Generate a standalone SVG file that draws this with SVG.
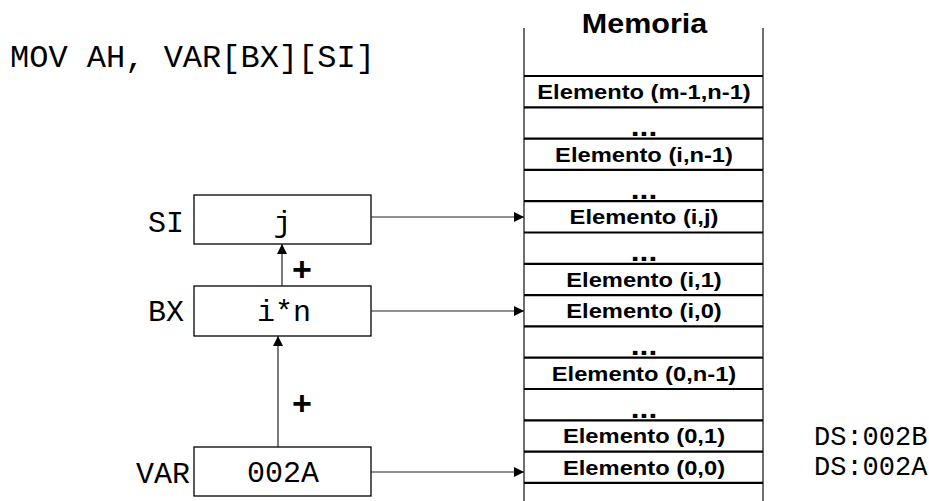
<svg xmlns="http://www.w3.org/2000/svg" width="929" height="501" viewBox="0 0 929 501">
<style>
.mono{font-family:"Courier New",Courier,"Liberation Mono",monospace;fill:#000}
.el{font-family:"Liberation Sans",Arial,sans-serif;font-weight:bold;font-size:21px;text-anchor:middle;fill:#000}
.dots{font-family:"Liberation Sans",Arial,sans-serif;font-weight:bold;font-size:28px;text-anchor:middle;fill:#000}
.plus{font-family:"Liberation Sans",Arial,sans-serif;font-weight:bold;font-size:34px;text-anchor:middle;fill:#000}
.box{fill:#fff;stroke:#000;stroke-width:1.3}
.hl{stroke:#000;stroke-width:2.2}
.vl{stroke:#222;stroke-width:1.3}
.con{stroke:#222;stroke-width:1.2;fill:none}
</style>
<defs>
<marker id="ah" viewBox="0 0 10 10" refX="10" refY="5" markerWidth="10" markerHeight="10" markerUnits="userSpaceOnUse" orient="auto">
<path d="M0,0 L10,5 L0,10 Z" fill="#000"/>
</marker>
</defs>
<rect width="929" height="501" fill="#fff"/>
<text class="mono" x="10" y="67" font-size="32">MOV AH, VAR[BX][SI]</text>

<g id="memoria">
<text x="0" y="33" transform="translate(644.5 0) scale(1.09 1)" style="font-family:'Liberation Sans',Arial,sans-serif;font-weight:bold;font-size:28px;text-anchor:middle">Memoria</text>
<line class="vl" x1="524" y1="28" x2="524" y2="501"/>
<line class="vl" x1="763" y1="28" x2="763" y2="501"/>
<line class="hl" x1="524" y1="76" x2="763" y2="76"/>
<line class="hl" x1="524" y1="107.3" x2="763" y2="107.3"/>
<line class="hl" x1="524" y1="138.6" x2="763" y2="138.6"/>
<line class="hl" x1="524" y1="169.9" x2="763" y2="169.9"/>
<line class="hl" x1="524" y1="201.2" x2="763" y2="201.2"/>
<line class="hl" x1="524" y1="232.5" x2="763" y2="232.5"/>
<line class="hl" x1="524" y1="263.8" x2="763" y2="263.8"/>
<line class="hl" x1="524" y1="295.1" x2="763" y2="295.1"/>
<line class="hl" x1="524" y1="326.4" x2="763" y2="326.4"/>
<line class="hl" x1="524" y1="357.7" x2="763" y2="357.7"/>
<line class="hl" x1="524" y1="389" x2="763" y2="389"/>
<line class="hl" x1="524" y1="420.3" x2="763" y2="420.3"/>
<line class="hl" x1="524" y1="451.6" x2="763" y2="451.6"/>
<line class="hl" x1="524" y1="482.9" x2="763" y2="482.9"/>
<g transform="translate(644 0) scale(1.13 1)">
<g id="cell-m1n1"><text class="el" x="0" y="99">Elemento (m-1,n-1)</text></g>
<g id="cell-dots1"><text class="dots" x="0" y="136.5">...</text></g>
<g id="cell-in1"><text class="el" x="0" y="161.6">Elemento (i,n-1)</text></g>
<g id="cell-dots2"><text class="dots" x="0" y="199">...</text></g>
<g id="cell-ij"><text class="el" x="0" y="224.2">Elemento (i,j)</text></g>
<g id="cell-dots3"><text class="dots" x="0" y="261.5">...</text></g>
<g id="cell-i1"><text class="el" x="0" y="286.8">Elemento (i,1)</text></g>
<g id="cell-i0"><text class="el" x="0" y="318.1">Elemento (i,0)</text></g>
<g id="cell-dots4"><text class="dots" x="0" y="355.4">...</text></g>
<g id="cell-0n1"><text class="el" x="0" y="380.7">Elemento (0,n-1)</text></g>
<g id="cell-dots5"><text class="dots" x="0" y="418">...</text></g>
<g id="cell-01"><text class="el" x="0" y="443.3">Elemento (0,1)</text></g>
<g id="cell-00"><text class="el" x="0" y="474.6">Elemento (0,0)</text></g>
</g>
</g>

<g id="SI">
<rect class="box" x="194" y="195" width="177" height="49"/>
<text class="mono" x="184" y="232" font-size="30" text-anchor="end">SI</text>
<text class="mono" x="282.5" y="232" font-size="30" text-anchor="middle">j</text>
</g>
<g id="BX">
<rect class="box" x="194" y="286" width="177" height="50"/>
<text class="mono" x="184" y="321" font-size="30" text-anchor="end">BX</text>
<text class="mono" x="284" y="321" font-size="30" text-anchor="middle">i*n</text>
</g>
<g id="VAR">
<rect class="box" x="194" y="447" width="177" height="49"/>
<text class="mono" x="190" y="483" font-size="30" text-anchor="end">VAR</text>
<text class="mono" x="283" y="482" font-size="30" text-anchor="middle">002A</text>
</g>

<g id="addresses">
<text class="mono" x="814" y="445" font-size="27">DS:002B</text>
<text class="mono" x="814" y="475" font-size="27">DS:002A</text>
</g>

<g id="connectors">
<line class="con" x1="371" y1="217" x2="524" y2="217" marker-end="url(#ah)"/>
<line class="con" x1="371" y1="311" x2="524" y2="311" marker-end="url(#ah)"/>
<line class="con" x1="371" y1="472" x2="524" y2="472" marker-end="url(#ah)"/>
<line class="con" x1="282" y1="286" x2="282" y2="244" marker-end="url(#ah)"/>
<line class="con" x1="278" y1="447" x2="278" y2="336" marker-end="url(#ah)"/>
<text class="plus" x="302" y="281">+</text>
<text class="plus" x="302" y="415">+</text>
</g>
</svg>
